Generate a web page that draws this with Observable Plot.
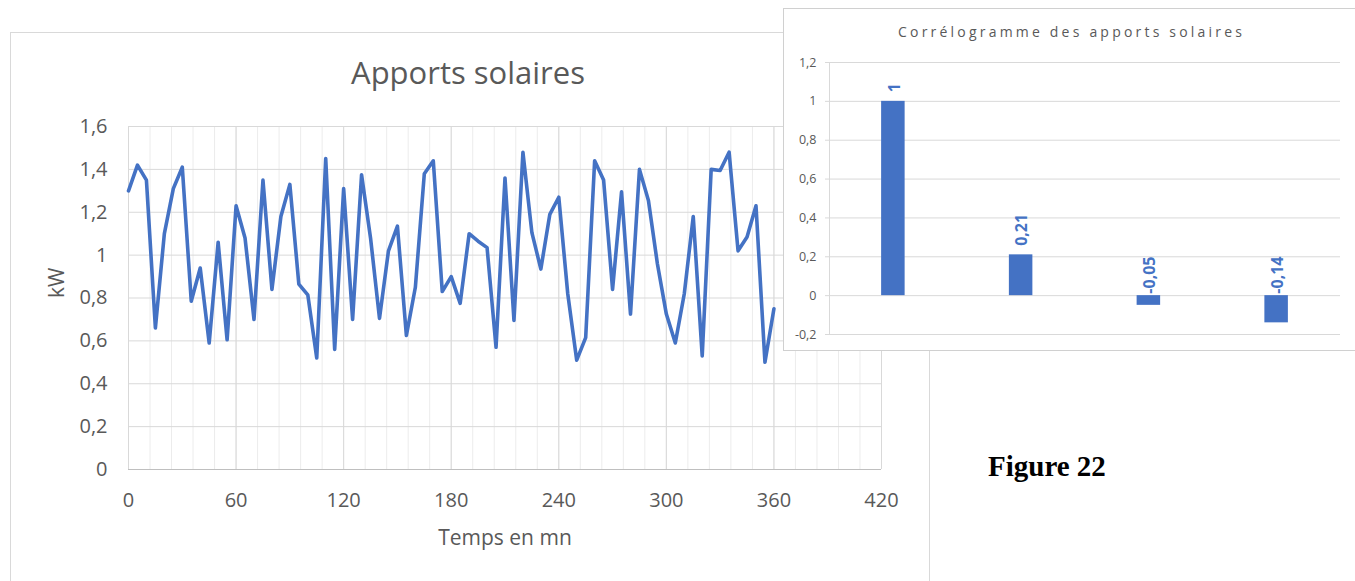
<!DOCTYPE html>
<html>
<head>
<meta charset="utf-8">
<script src="https://cdn.jsdelivr.net/npm/d3@7"></script>
<script src="https://cdn.jsdelivr.net/npm/@observablehq/plot@0.6"></script>
<style>
  html, body { margin: 0; padding: 0; background: #fff; }
  #page { position: relative; width: 1355px; height: 581px; overflow: hidden; font-family: "Open Sans", sans-serif; }
  .abs { position: absolute; }
  #mainBox { left: 10px; top: 32px; width: 920px; height: 600px; border: 1px solid #d9d9d9; box-sizing: border-box; background: #fff; }
  #mainTitle { left: 8px; top: 57px; width: 920px; text-align: center; font-size: 31px; line-height: 31px; color: #595959; white-space: nowrap; }
  #insetBox { left: 783px; top: 8px; width: 600px; height: 343px; border: 1px solid #d0d0d0; box-sizing: border-box; background: #fff; }
  #insetTitle { left: 783px; top: 25px; width: 574px; text-align: center; font-size: 14px; line-height: 14px; letter-spacing: 3.2px; padding-left: 3.2px; box-sizing: border-box; color: #595959; white-space: nowrap; }
  #fig { left: 988px; top: 452px; font-family: "Liberation Serif", serif; font-weight: bold; font-size: 29px; line-height: 29px; color: #000; white-space: nowrap; }
</style>
</head>
<body>
<div id="page">
  <div id="mainBox" class="abs"></div>
  <div id="mainPlot" class="abs" style="left:0;top:0;"></div>
  <div id="mainTitle" class="abs">Apports solaires</div>
  <div id="insetBox" class="abs"></div>
  <div id="insetPlot" class="abs" style="left:783px;top:8px;"></div>
  <div id="insetTitle" class="abs">Corrélogramme des apports solaires</div>
  <div id="fig" class="abs">Figure 22</div>
</div>
<script>
// ---- Data: solar gains (kW) every 5 minutes ----
const times = [0,5,10,15,20,25,30,35,40,45,50,55,60,65,70,75,80,85,90,95,100,105,110,115,120,125,130,135,140,145,150,155,160,165,170,175,180,185,190,195,200,205,210,215,220,225,230,235,240,245,250,255,260,265,270,275,280,285,290,295,300,305,310,315,320,325,330,335,340,345,350,355,360];
const kw = [1.30,1.42,1.35,0.66,1.10,1.31,1.41,0.785,0.94,0.59,1.06,0.605,1.23,1.08,0.70,1.35,0.84,1.18,1.33,0.865,0.815,0.52,1.45,0.56,1.31,0.70,1.375,1.08,0.705,1.02,1.135,0.625,0.85,1.38,1.44,0.83,0.90,0.775,1.10,1.065,1.035,0.57,1.36,0.695,1.48,1.105,0.935,1.19,1.27,0.82,0.51,0.615,1.44,1.35,0.84,1.295,0.725,1.40,1.255,0.96,0.725,0.59,0.82,1.18,0.53,1.40,1.395,1.48,1.02,1.085,1.23,0.50,0.75];
const xTicks = [0,60,120,180,240,300,360,420];
const xTickLabels = ["0","60","120","180","240","300","360","420"];
const yTicks = [0,0.2,0.4,0.6,0.8,1,1.2,1.4,1.6];
const yTickLabels = ["0","0,2","0,4","0,6","0,8","1","1,2","1,4","1,6"];

// ---- Data: correlogram ----
const lags = [0,1,2,3];
const acf = [1,0.21,-0.05,-0.14];
const acfLabels = ["1","0,21","-0,05","-0,14"];
const acfTicks = [-0.2,0,0.2,0.4,0.6,0.8,1,1.2];
const acfTickLabels = ["-0,2","0","0,2","0,4","0,6","0,8","1","1,2"];

const series = times.map((t, i) => ({t, v: kw[i]}));
const minorX = d3.range(0, 421, 12);
const gray = "#595959";

const main = Plot.plot({
  width: 929, height: 581,
  marginLeft: 128, marginRight: 48, marginTop: 126, marginBottom: 112,
  style: {background: "transparent", overflow: "visible", fontFamily: "'Open Sans', sans-serif", color: gray},
  x: {domain: [0, 420], label: null},
  y: {domain: [0, 1.6], label: null},
  marks: [
    Plot.ruleX(minorX, {stroke: "#ececec", strokeWidth: 1}),
    Plot.ruleX(xTicks, {stroke: "#d9d9d9", strokeWidth: 1}),
    Plot.ruleY(yTicks, {stroke: "#d9d9d9", strokeWidth: 1}),
    Plot.ruleY([0], {stroke: "#bfbfbf", strokeWidth: 1}),
    Plot.axisX({ticks: xTicks, tickFormat: d => xTickLabels[xTicks.indexOf(d)], tickSize: 0, tickPadding: 23, fontSize: 20, label: null}),
    Plot.axisY({ticks: yTicks, tickFormat: d => yTickLabels[yTicks.indexOf(d)], tickSize: 0, tickPadding: 21, fontSize: 20, label: null}),
    Plot.line(series, {x: "t", y: "v", stroke: "#4472c4", strokeWidth: 3.6, strokeLinejoin: "round", strokeLinecap: "round"}),
    Plot.text(["Temps en mn"], {frameAnchor: "bottom", lineAnchor: "bottom", dy: 75, fontSize: 21, fill: gray}),
    Plot.text(["kW"], {frameAnchor: "left", rotate: -90, dx: -71, fontSize: 21, fill: gray})
  ]
});
document.getElementById("mainPlot").appendChild(main);

const acfData = lags.map((l, i) => ({lag: l, v: acf[i], label: acfLabels[i]}));
const halfBar = 0.092;
const inset = Plot.plot({
  width: 572, height: 342,
  marginLeft: 46, marginRight: 15, marginTop: 54, marginBottom: 16,
  style: {background: "transparent", overflow: "visible", fontFamily: "'Open Sans', sans-serif", color: gray},
  x: {domain: [lags[0] - 0.5, lags[lags.length - 1] + 0.5], axis: null},
  y: {domain: [-0.2, 1.2], label: null},
  marks: [
    Plot.ruleY(acfTicks, {stroke: "#d9d9d9"}),
    Plot.ruleX([lags[0] - 0.5], {stroke: "#d9d9d9"}),
    Plot.axisY({ticks: acfTicks, tickFormat: d => acfTickLabels[acfTicks.indexOf(d)], tickSize: 4, stroke: "#d9d9d9", tickPadding: 9, fontSize: 12.5, label: null}),
    Plot.rectY(acfData, {x1: d => d.lag - halfBar, x2: d => d.lag + halfBar, y1: 0, y2: "v", fill: "#4472c4"}),
    Plot.text(acfData.filter(d => d.v >= 0), {x: "lag", y: "v", text: "label", rotate: -90, textAnchor: "start", dy: -9, dx: 1, fontSize: 16, fontWeight: "bold", fill: "#4472c4"}),
    Plot.text(acfData.filter(d => d.v < 0), {x: "lag", y: () => 0, text: "label", rotate: -90, textAnchor: "start", dy: -2, dx: 1, fontSize: 16, fontWeight: "bold", fill: "#4472c4"})
  ]
});
document.getElementById("insetPlot").appendChild(inset);
</script>
</body>
</html>
